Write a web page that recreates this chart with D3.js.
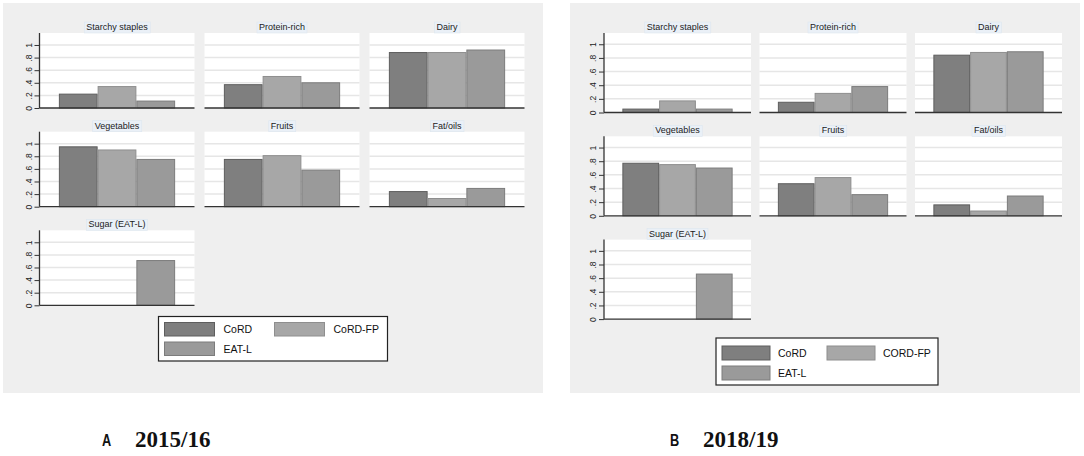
<!DOCTYPE html>
<html>
<head>
<meta charset="utf-8">
<script src="https://cdn.jsdelivr.net/npm/d3@7"></script>
<style>
  body { margin: 0; background: #fff; }
  svg { display: block; font-family: Arial, "Liberation Sans", sans-serif; }
</style>
</head>
<body>
<div class="wrapper"></div>
<script>
width = 1084;
height = 456;

categories = ["Starchy staples", "Protein-rich", "Dairy", "Vegetables", "Fruits", "Fat/oils", "Sugar (EAT-L)"];
seriesA = ["CoRD", "CoRD-FP", "EAT-L"];
seriesB = ["CoRD", "CORD-FP", "EAT-L"];

// 2015/16
cordA   = [0.22, 0.37, 0.88, 0.95, 0.75, 0.24, null];
cordFpA = [0.34, 0.50, 0.88, 0.90, 0.81, 0.13, null];
eatA    = [0.11, 0.40, 0.92, 0.75, 0.58, 0.29, 0.71];

// 2018/19
cordB   = [0.05, 0.15, 0.84, 0.77, 0.47, 0.16, null];
cordFpB = [0.17, 0.28, 0.88, 0.75, 0.56, 0.07, null];
eatB    = [0.05, 0.38, 0.89, 0.70, 0.31, 0.29, 0.66];

yTicks = [0, 0.2, 0.4, 0.6, 0.8, 1];
yTickLabels = ["0", ".2", ".4", ".6", ".8", "1"];

fills = ["#7f7f7f", "#a7a7a7", "#9a9a9a"];
strokes = ["#5e5e5e", "#8e8e8e", "#7c7c7c"];

svg = d3.select(".wrapper")
  .append("svg")
  .attr("width", width)
  .attr("height", height);

function drawPanel(p) {
  var g = svg.append("g");

  g.append("rect")
    .attr("x", p.bg[0]).attr("y", p.bg[1])
    .attr("width", p.bg[2]).attr("height", p.bg[3])
    .attr("fill", "#efefef");

  var values = [p.cord, p.cordFp, p.eat];

  categories.forEach(function (cat, i) {
    var col = i % 3, row = Math.floor(i / 3);
    var left = p.cols[col], top = p.rows[row];
    var w = p.plotW, h = p.plotH;

    var y = d3.scaleLinear().domain([0, p.yMax]).range([top + h, top]);
    var x = d3.scaleBand().domain(p.series)
      .range([left + w * 0.125, left + w * 0.875]).padding(0);

    var cell = g.append("g").attr("class", "cell");

    cell.append("rect")
      .attr("x", left).attr("y", top)
      .attr("width", w).attr("height", h)
      .attr("fill", "#fff");

    // gridlines
    cell.selectAll(".grid")
      .data(yTicks.slice(1))
      .enter().append("line")
      .attr("x1", left).attr("x2", left + w)
      .attr("y1", function (d) { return y(d); })
      .attr("y2", function (d) { return y(d); })
      .attr("stroke", "#e6e6e6")
      .attr("stroke-width", 1.5);

    // bars
    var bars = p.series.map(function (s, k) {
      return { s: s, k: k, v: values[k][i] };
    }).filter(function (d) { return d.v != null; });

    cell.selectAll(".bar")
      .data(bars)
      .enter().append("rect")
      .attr("x", function (d) { return x(d.s) + 0.5; })
      .attr("y", function (d) { return y(d.v); })
      .attr("width", x.bandwidth() - 1)
      .attr("height", function (d) { return y(0) - y(d.v); })
      .attr("fill", function (d) { return fills[d.k]; })
      .attr("stroke", function (d) { return strokes[d.k]; })
      .attr("stroke-width", 1);

    // baseline
    cell.append("line")
      .attr("x1", left).attr("x2", left + w)
      .attr("y1", top + h).attr("y2", top + h)
      .attr("stroke", "#333").attr("stroke-width", 1.3);

    // y axis only on the first column
    if (col === 0) {
      var ax = cell.append("g")
        .attr("transform", "translate(" + left + ",0)")
        .call(d3.axisLeft(y).tickValues(yTicks).tickSize(5).tickPadding(4)
          .tickFormat(function (d, j) { return yTickLabels[j]; }));
      ax.select(".domain").attr("d", "M0," + top + "V" + (top + h))
        .attr("stroke", "#333").attr("stroke-width", 1.3);
      ax.selectAll(".tick line").attr("stroke", "#333");
      ax.selectAll(".tick text")
        .attr("font-size", 8.5)
        .attr("fill", "#222")
        .attr("x", -11).attr("dy", 0)
        .attr("text-anchor", "middle")
        .attr("transform", "rotate(-90,-11,0) translate(0,3)");
    }

    // title with light box
    var tx = left + w / 2, ty = top - 6;
    var tbox = cell.append("rect");
    var title = cell.append("text")
      .attr("x", tx).attr("y", ty + 3)
      .attr("text-anchor", "middle")
      .attr("font-size", 9)
      .attr("fill", "#222")
      .text(cat);
    var bb = title.node().getBBox();
    tbox.attr("x", bb.x - 2).attr("y", top - 11)
      .attr("width", bb.width + 4).attr("height", 11)
      .attr("fill", "#eaf0f7").attr("stroke", "#dde6ef").attr("stroke-width", 0.6);
  });

  // legend
  var L = p.legend;
  var lg = g.append("g");
  lg.append("rect")
    .attr("x", L.x).attr("y", L.y).attr("width", L.w).attr("height", L.h)
    .attr("fill", "#fff").attr("stroke", "#222").attr("stroke-width", 1.2);
  var items = p.series.map(function (s, k) {
    return { s: s, k: k, col: k % 2, row: Math.floor(k / 2) };
  });
  var it = lg.selectAll(".item").data(items).enter().append("g");
  it.append("rect")
    .attr("x", function (d) { return L.x + L.sx[d.col]; })
    .attr("y", function (d) { return L.y + L.sy[d.row]; })
    .attr("width", L.sw).attr("height", L.sh)
    .attr("fill", function (d) { return fills[d.k]; })
    .attr("stroke", function (d) { return strokes[d.k]; });
  it.append("text")
    .attr("x", function (d) { return L.x + L.tx[d.col]; })
    .attr("y", function (d) { return L.y + L.sy[d.row] + L.sh / 2 + 4; })
    .attr("font-size", 10.5)
    .attr("fill", "#111")
    .text(function (d) { return d.s; });

  // panel caption
  svg.append("text")
    .attr("transform", "translate(" + p.cap[0] + "," + (p.cap[1] - 1) + ") scale(0.75,1)")
    .attr("font-size", 17).attr("font-weight", "bold")
    .attr("fill", "#111")
    .text(p.letter);
  svg.append("text")
    .attr("x", p.cap[0] + 33).attr("y", p.cap[1])
    .attr("font-family", "'Liberation Serif', 'Times New Roman', serif")
    .attr("font-size", 23).attr("font-weight", "bold")
    .attr("fill", "#111")
    .text(p.year);
}

drawPanel({
  bg: [3, 3, 540, 390],
  cols: [39.5, 204.5, 369.5], plotW: 155,
  rows: [33, 131.7, 230.3], plotH: 75, yMax: 1.19,
  series: seriesA, cord: cordA, cordFp: cordFpA, eat: eatA,
  legend: { x: 158.5, y: 316.5, w: 229, h: 44.5,
    sx: [6, 116], sy: [6, 25.5], sw: 50, sh: 13.5, tx: [65, 175] },
  letter: "A", year: "2015/16", cap: [102, 447]
});

drawPanel({
  bg: [570, 3, 510, 390],
  cols: [604, 759.5, 915], plotW: 147,
  rows: [33, 136.3, 239.6], plotH: 79.5, yMax: 1.165,
  series: seriesB, cord: cordB, cordFp: cordFpB, eat: eatB,
  legend: { x: 716, y: 338, w: 222, h: 47,
    sx: [6, 111], sy: [8, 28], sw: 48, sh: 14, tx: [62, 167] },
  letter: "B", year: "2018/19", cap: [670, 447]
});
</script>
</body>
</html>
